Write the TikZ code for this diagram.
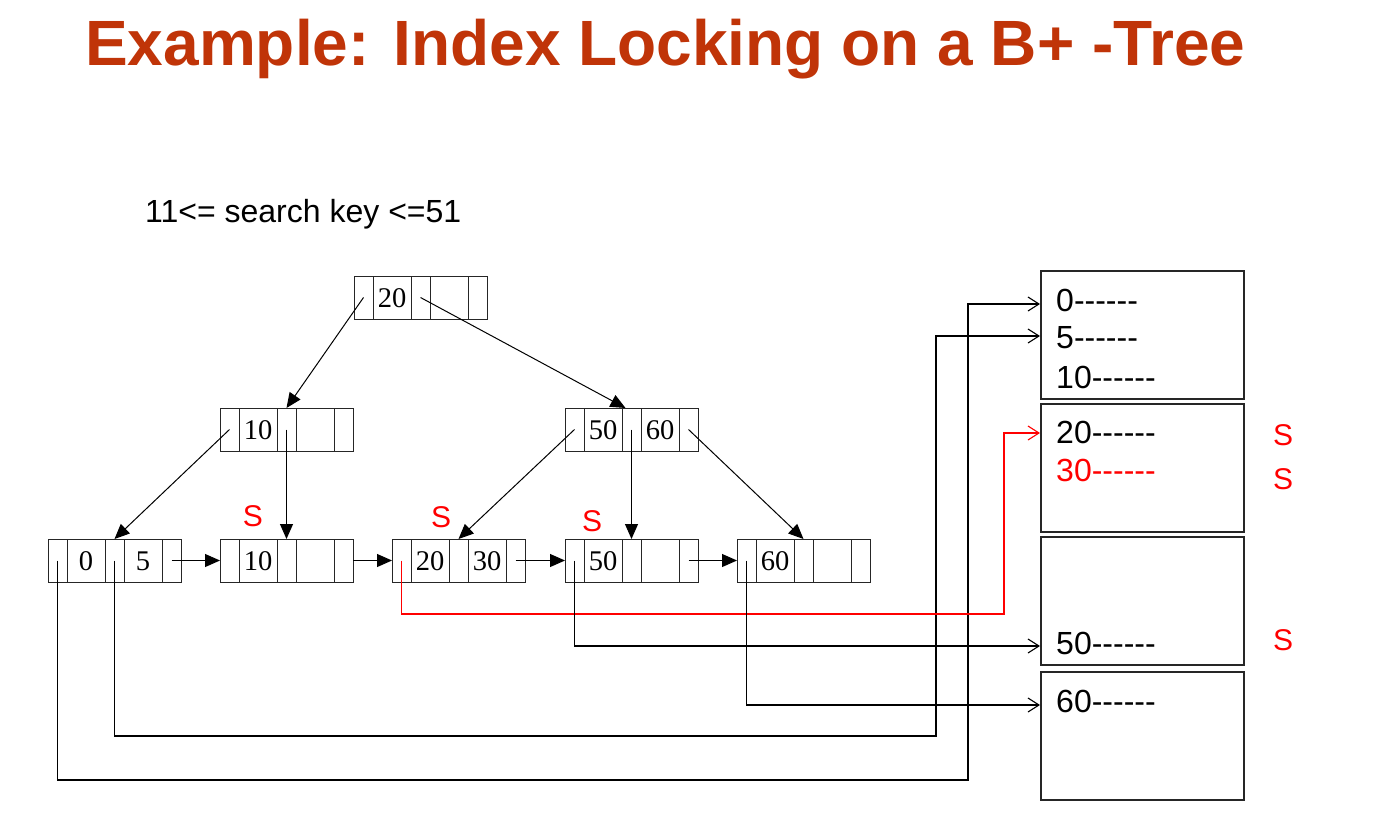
\documentclass[tikz,border=0pt]{standalone}
\usepackage{fontspec}
\setmainfont{Liberation Serif}
\newfontfamily\arialf{Liberation Sans}
\usetikzlibrary{arrows.meta,calc}
\definecolor{titlered}{RGB}{192,52,8}
\definecolor{lockred}{RGB}{255,0,0}
\tikzset{
 bnode/.style={draw=black!85, line width=1pt, minimum width=133pt, minimum height=43pt, inner sep=0pt, outer sep=0pt},
 cellline/.style={draw=black!85, line width=1pt},
 keyt/.style={font=\fontsize{28.5}{28.5}\selectfont, inner sep=0pt},
 ptr/.style={line width=1pt, -{Triangle[length=15pt,width=13pt]}},
 dptr/.style={line width=1.1pt, -{Straight Barb[length=11pt,width=14pt]}},
 dbox/.style={draw=black!85, line width=1.4pt, minimum width=203pt, minimum height=128pt, inner sep=0pt, outer sep=0pt, anchor=north west},
 dtxt/.style={font=\arialf\fontsize{32}{32}\selectfont, inner sep=0pt, anchor=base west},
 lock/.style={font=\arialf\fontsize{30}{30}\selectfont, text=lockred, inner sep=0pt},
}
\newcommand{\btnode}[5]{%
 \node[bnode, anchor=north west] (#1) at (#2,#3) {};
 \foreach \d in {19,57,76,114} {\draw[cellline] ({#2+\d},#3) -- ({#2+\d},{#3+43});}
 \node[keyt] (#1-k1) at ({#2+38},{#3+22}) {#4};
 \node[keyt] (#1-k2) at ({#2+95},{#3+22}) {#5};
 \coordinate (#1-p1) at ({#2+9.5},{#3+21.5});
 \coordinate (#1-p2) at ({#2+66.5},{#3+21.5});
 \coordinate (#1-p3) at ({#2+123.5},{#3+21.5});
 \coordinate (#1-t2) at ({#2+66.5},#3);
}
\begin{document}
\begin{tikzpicture}[x=1pt,y={(0pt,-1pt)}]
\fill[white] (0,0) rectangle (1392,832);
\useasboundingbox (0,0) rectangle (1392,832);

\node[font=\arialf\bfseries\fontsize{64}{64}\selectfont, text=titlered, anchor=base west, inner sep=0pt] (title) at (85,66) {Example: Index Locking on a B+ -Tree};
\node[font=\arialf\fontsize{32}{32}\selectfont, anchor=base west, inner sep=0pt] (query) at (145,222) {11<= search key <=51};

% tree nodes
\btnode{root}{354}{276}{20}{}
\btnode{n10}{220}{408}{10}{}
\btnode{n50}{565}{408}{50}{60}
\btnode{l1}{48}{539}{0}{5}
\btnode{l2}{220}{539}{10}{}
\btnode{l3}{392}{539}{20}{30}
\btnode{l4}{565}{539}{50}{}
\btnode{l5}{737}{539}{60}{}

% tree pointers
\draw[ptr] (root-p1) -- (n10-t2);
\draw[ptr] (root-p2) -- ($(n50-t2)+(-6,0)$);
\draw[ptr] (n10-p1) -- (l1-t2);
\draw[ptr] (n10-p2) -- (l2-t2);
\draw[ptr] (n50-p1) -- (l3-t2);
\draw[ptr] (n50-p2) -- (l4-t2);
\draw[ptr] (n50-p3) -- (l5-t2);

% sibling pointers
\draw[ptr] (l1-p3) -- (l2.west);
\draw[ptr] (l2.east) -- (l3.west);
\draw[ptr] (l3-p3) -- (l4.west);
\draw[ptr] (l4-p3) -- (l5.west);

% lock labels on leaves
\node[lock] (s2) at (253,516) {S};
\node[lock] (s3) at (441,517) {S};
\node[lock] (s4) at (592,521) {S};

% data pages
\node[dbox] (b1) at (1041,271) {};
\node[dbox] (b2) at (1041,404) {};
\node[dbox] (b3) at (1041,537) {};
\node[dbox] (b4) at (1041,672) {};

\node[dtxt] (t0) at (1056,311) {0------};
\node[dtxt] (t5) at (1056,348) {5------};
\node[dtxt] (t10) at (1056,388) {10------};
\node[dtxt] (t20) at (1056,443) {20------};
\node[dtxt, text=lockred] (t30) at (1056,481) {30------};
\node[dtxt] (t50) at (1056,654) {50------};
\node[dtxt] (t60) at (1056,712) {60------};

\node[lock] (r20) at (1283,435) {S};
\node[lock] (r30) at (1283,479) {S};
\node[lock] (r50) at (1283,640) {S};

% entry points and bends
\coordinate (e0) at (1040,304);
\coordinate (e5) at (1040,336);
\coordinate (e20) at (1040,433);
\coordinate (e50) at (1040,646);
\coordinate (e60) at (1040,705);
\coordinate (c1) at (968,780);
\coordinate (c2) at (936,736);
\coordinate (c3) at (1004,614);

\draw[dptr] (l1-p1) |- (c1) |- (e0);
\draw[dptr] (l1-p2) |- (c2) |- (e5);
\draw[dptr, draw=lockred] (l3-p1) |- (c3) |- (e20);
\draw[dptr] (l4-p1) |- (e50);
\draw[dptr] (l5-p1) |- (e60);
\end{tikzpicture}
\end{document}
